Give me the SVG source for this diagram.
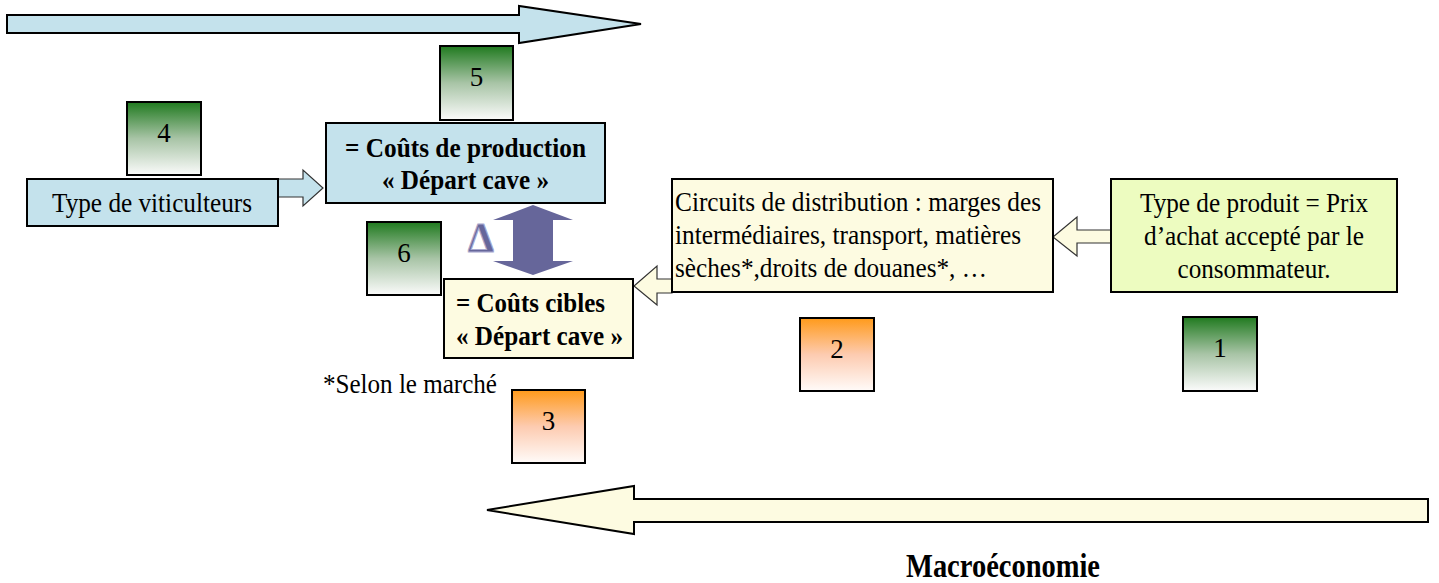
<svg xmlns="http://www.w3.org/2000/svg" width="1439" height="583" viewBox="0 0 1439 583">
  <defs>
    <linearGradient id="gradGreen" x1="0" y1="0" x2="0" y2="1">
      <stop offset="0" stop-color="#207a1f"/>
      <stop offset="0.5" stop-color="#a8c4a6"/>
      <stop offset="1" stop-color="#fbfbfb"/>
    </linearGradient>
    <linearGradient id="gradOrange" x1="0" y1="0" x2="0" y2="1">
      <stop offset="0" stop-color="#ff9a1a"/>
      <stop offset="0.5" stop-color="#fdcbb0"/>
      <stop offset="1" stop-color="#fffbf9"/>
    </linearGradient>
  </defs>
  <style>
    .txt { font-family: "Liberation Serif", "Times New Roman", serif; font-size: 27px; fill: #000; }
    .bold { font-weight: bold; }
    .mid { text-anchor: middle; }
    .tag { stroke: #000; stroke-width: 2; }
    .green { fill: url(#gradGreen); }
    .orange { fill: url(#gradOrange); }
    .blue { fill: #c4e2ec; stroke: #000; stroke-width: 2; }
    .cream { fill: #fdfbe1; stroke: #000; stroke-width: 2; }
    .lime { fill: #edfcc0; stroke: #000; stroke-width: 2; }
    .thin { stroke-width: 1.2; stroke: #333; }
    .purple { fill: #66669a; }
  </style>

  <!-- wide flow arrows -->
  <g id="flows">
    <polygon class="blue" points="7,15 519,15 519,6 641,24 519,43 519,33 7,33"/>
    <polygon class="cream" points="1428,499 634,499 634,486 487,510 634,534 634,522 1428,522"/>
  </g>

  <!-- connectors between boxes -->
  <g id="connectors">
    <polygon class="blue thin" points="278,179 303,179 303,170 323,188 303,206 303,197 278,197"/>
    <polygon class="cream thin" points="1112,230 1077,230 1077,217 1053,237 1077,256 1077,243 1112,243"/>
    <polygon class="cream thin" points="672,279 657,279 657,266 634,286 657,305 657,293 672,293"/>
    <polygon class="purple" points="533,205 573,220 553,220 553,261 573,261 533,275 493,261 513,261 513,220 493,220"/>
  </g>

  <g id="node-viticulteurs">
    <rect class="blue" x="27" y="179" width="251" height="47"/>
    <text class="txt mid" x="152" y="212" textLength="200" lengthAdjust="spacingAndGlyphs">Type de viticulteurs</text>
  </g>

  <g id="node-production">
    <rect class="blue" x="326" y="123" width="279" height="80"/>
    <text class="txt bold mid" x="465.5" y="157" textLength="241" lengthAdjust="spacingAndGlyphs">= Coûts de production</text>
    <text class="txt bold mid" x="465.5" y="189" textLength="167" lengthAdjust="spacingAndGlyphs">« Départ cave »</text>
  </g>

  <g id="node-cibles">
    <rect class="cream" x="444" y="279" width="189" height="79"/>
    <text class="txt bold" x="456" y="312" textLength="149" lengthAdjust="spacingAndGlyphs">= Coûts cibles</text>
    <text class="txt bold" x="456" y="345" textLength="167" lengthAdjust="spacingAndGlyphs">« Départ cave »</text>
  </g>

  <g id="node-distribution">
    <rect class="cream" x="672" y="179" width="381" height="113"/>
    <text class="txt" x="675" y="211" textLength="366" lengthAdjust="spacingAndGlyphs">Circuits de distribution : marges des</text>
    <text class="txt" x="675" y="244" textLength="346" lengthAdjust="spacingAndGlyphs">intermédiaires, transport, matières</text>
    <text class="txt" x="675" y="277" textLength="312" lengthAdjust="spacingAndGlyphs">sèches*,droits de douanes*, …</text>
  </g>

  <g id="node-produit">
    <rect class="lime" x="1111" y="179" width="286" height="113"/>
    <text class="txt mid" x="1254" y="212" textLength="228" lengthAdjust="spacingAndGlyphs">Type de produit = Prix</text>
    <text class="txt mid" x="1254" y="245" textLength="220" lengthAdjust="spacingAndGlyphs">d’achat accepté par le</text>
    <text class="txt mid" x="1254" y="278" textLength="153" lengthAdjust="spacingAndGlyphs">consommateur.</text>
  </g>

  <g id="delta">
    <text class="txt bold mid" x="481" y="252" style="font-size:42px; fill:#66669a; stroke:#a9a9cf; stroke-width:1">Δ</text>
  </g>

  <!-- numbered step tags -->
  <g id="step-1">
    <rect class="tag green" x="1183" y="317" width="74" height="74"/>
    <text class="txt mid" x="1220" y="357">1</text>
  </g>
  <g id="step-2">
    <rect class="tag orange" x="800" y="318" width="74" height="73"/>
    <text class="txt mid" x="837" y="358">2</text>
  </g>
  <g id="step-3">
    <rect class="tag orange" x="512" y="390" width="73" height="73"/>
    <text class="txt mid" x="548.5" y="430">3</text>
  </g>
  <g id="step-4">
    <rect class="tag green" x="127" y="102" width="74" height="73"/>
    <text class="txt mid" x="164" y="142">4</text>
  </g>
  <g id="step-5">
    <rect class="tag green" x="440" y="46" width="73" height="74"/>
    <text class="txt mid" x="476.5" y="86">5</text>
  </g>
  <g id="step-6">
    <rect class="tag green" x="367" y="222" width="74" height="73"/>
    <text class="txt mid" x="404" y="262">6</text>
  </g>

  <g id="note">
    <text class="txt" x="323" y="393" textLength="174" lengthAdjust="spacingAndGlyphs">*Selon le marché</text>
  </g>

  <g id="title-macro">
    <text class="txt bold mid" x="1003" y="577" style="font-size:33px" textLength="194" lengthAdjust="spacingAndGlyphs">Macroéconomie</text>
  </g>
</svg>
